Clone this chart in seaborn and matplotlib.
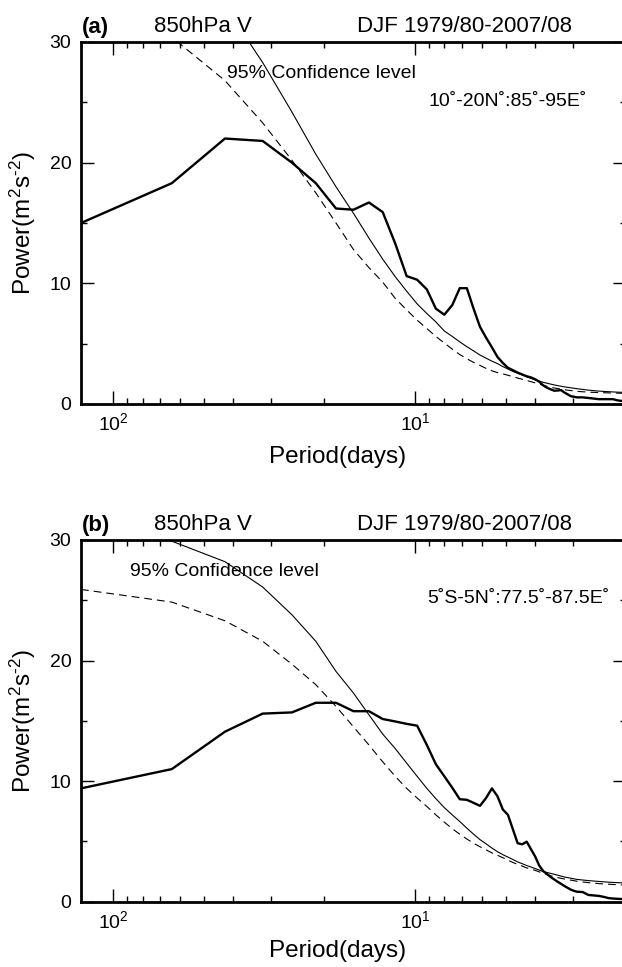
import matplotlib
matplotlib.use("Agg")
import matplotlib.pyplot as plt
import matplotlib.ticker as mticker
import numpy as np
import pandas as pd
import seaborn as sns

# segment length in days, periods are n_days / k
n_days = 128

# harmonics for the observed spectra
k_obs = [1, 2, 3, 4, 5, 6, 7, 8, 9, 10, 11, 12, 13, 14, 15, 16, 17, 18, 19, 20,
         21, 22, 23, 24, 25, 26, 27, 28, 29, 30, 31, 32, 33, 34, 35, 36, 37, 38, 39, 40,
         41, 42, 43, 44, 46, 48, 50, 52, 54, 56, 58, 60, 62, 64]

# (a) 10-20N, 85-95E
power_a = [15.0, 18.3, 22.0, 21.8, 20.0, 18.3, 16.2, 16.1, 16.7, 15.9,
           13.3, 10.6, 10.3, 9.5, 7.9, 7.4, 8.2, 9.6, 9.6, 7.9,
           6.4, 5.5, 4.7, 3.9, 3.4, 3.0, 2.8, 2.6, 2.45, 2.3,
           2.2, 2.05, 1.85, 1.55, 1.35, 1.22, 1.1, 1.12, 1.15, 0.95,
           0.8, 0.65, 0.6, 0.55, 0.55, 0.5, 0.45, 0.4, 0.4, 0.4, 0.4, 0.3, 0.25, 0.2]

# (b) 5S-5N, 77.5-87.5E
power_b = [9.4, 11.0, 14.1, 15.6, 15.7, 16.5, 16.5, 15.8, 15.8, 15.15,
           14.95, 14.75, 14.6, 13.0, 11.4, 10.4, 9.45, 8.5, 8.45, 8.2,
           7.95, 8.6, 9.4, 8.75, 7.65, 7.2, 6.0, 4.85, 4.76, 4.98,
           4.35, 3.75, 3.0, 2.55, 2.3, 2.05, 1.85, 1.65, 1.48, 1.3,
           1.15, 1.0, 0.9, 0.83, 0.8, 0.56, 0.52, 0.48, 0.4, 0.3, 0.26, 0.24, 0.22, 0.2]

# harmonics for the red noise / confidence curves
k_fit = [1, 2, 3, 4, 5, 6, 7, 8, 9, 10, 11, 12, 13, 14, 15, 16, 17, 18, 19, 20,
         21, 22, 23, 24, 25, 26, 27, 28, 29, 30, 32, 34, 36, 38, 40, 44, 48, 52, 56, 60, 64]

conf_a = [48, 40, 33, 28.3, 24.2, 20.7, 18.0, 15.8, 13.75, 12.0,
          10.55, 9.35, 8.3, 7.5, 6.8, 6.05, 5.6, 5.15, 4.75, 4.4,
          4.06, 3.8, 3.55, 3.35, 3.1, 2.9, 2.7, 2.55, 2.4, 2.25,
          2.0, 1.8, 1.65, 1.52, 1.42, 1.27, 1.15, 1.07, 1.02, 0.98, 0.96]
red_a = [33, 30.4, 26.8, 23.3, 20.2, 17.5, 15.0, 12.8, 11.3, 10.1,
         8.75, 7.8, 6.95, 6.25, 5.6, 5.05, 4.55, 4.1, 3.75, 3.45,
         3.2, 2.95, 2.75, 2.6, 2.5, 2.38, 2.27, 2.15, 2.05, 1.95,
         1.75, 1.55, 1.38, 1.28, 1.18, 1.05, 0.98, 0.95, 0.92, 0.9, 0.88]

conf_b = [33, 29.9, 28.2, 26.1, 23.8, 21.6, 19.1, 17.3, 15.5, 13.9,
          12.7, 11.5, 10.4, 9.4, 8.55, 7.8, 7.2, 6.65, 6.1, 5.6,
          5.15, 4.8, 4.45, 4.15, 3.9, 3.7, 3.5, 3.3, 3.15, 3.0,
          2.75, 2.5, 2.35, 2.2, 2.05, 1.85, 1.75, 1.68, 1.62, 1.58, 1.55]
red_b = [25.9, 24.85, 23.3, 21.6, 19.7, 18.0, 16.2, 14.5, 13.0, 11.6,
         10.4, 9.4, 8.6, 7.9, 7.2, 6.6, 6.05, 5.6, 5.2, 4.85,
         4.56, 4.3, 4.05, 3.85, 3.65, 3.45, 3.25, 3.1, 2.95, 2.8,
         2.6, 2.35, 2.15, 2.0, 1.88, 1.7, 1.58, 1.5, 1.45, 1.41, 1.38]

panels = [
    ("(a)", "10˚-20N˚:85˚-95E˚", power_a, conf_a, red_a),
    ("(b)", "5˚S-5N˚:77.5˚-87.5E˚", power_b, conf_b, red_b),
]

sns.set_theme(style="ticks", rc={
    "axes.edgecolor": "black", "text.color": "black", "axes.labelcolor": "black",
    "xtick.color": "black", "ytick.color": "black",
})
plt.rcParams["font.family"] = ["Liberation Sans", "DejaVu Sans"]
plt.rcParams["mathtext.fontset"] = "custom"
plt.rcParams["mathtext.rm"] = "Liberation Sans"
plt.rcParams["mathtext.default"] = "regular"

fig = plt.figure(figsize=(6.22, 9.67), dpi=100)
W, H = 622.0, 967.0
boxes = [(81, 42, 626, 404), (81, 540, 626, 901.7)]

for (tag, region, obs, conf, red), (x0, y0, x1, y1) in zip(panels, boxes):
    ax = fig.add_axes([x0 / W, 1 - y1 / H, (x1 - x0) / W, (y1 - y0) / H])

    df_obs = pd.DataFrame({"period": n_days / np.array(k_obs), "power": obs})
    df_fit = pd.DataFrame({"period": n_days / np.array(k_fit), "conf": conf, "red": red})

    sns.lineplot(data=df_fit, x="period", y="red", ax=ax, color="black", lw=0.8,
                 estimator=None, sort=False)
    ax.lines[-1].set_dashes((7, 4.5))
    sns.lineplot(data=df_fit, x="period", y="conf", ax=ax, color="black", lw=0.8,
                 estimator=None, sort=False)
    sns.lineplot(data=df_obs, x="period", y="power", ax=ax, color="black", lw=1.7,
                 estimator=None, sort=False)

    ax.set_xscale("log")
    ax.set_xlim(128, 2)
    ax.set_ylim(0, 30)
    ax.set_xticks([100, 10])
    ax.set_xticklabels([r"$10^{2}$", r"$10^{1}$"])
    ax.xaxis.set_minor_locator(mticker.LogLocator(base=10, subs=np.arange(2, 10), numticks=20))
    ax.xaxis.set_minor_formatter(mticker.NullFormatter())
    ax.set_yticks([0, 10, 20, 30])
    ax.yaxis.set_minor_locator(mticker.MultipleLocator(5))

    ax.tick_params(which="both", direction="in", top=True, right=True, width=1, labelsize=14)
    ax.tick_params(which="major", length=9.4)
    ax.tick_params(which="minor", length=4.3)
    ax.tick_params(axis="x", pad=6)
    ax.tick_params(axis="y", pad=7)
    for sp in ax.spines.values():
        sp.set_linewidth(2)

    h = y1 - y0
    ax.set_xlabel("Period(days)", fontsize=17.5)
    ax.set_ylabel(r"Power(m$^{2}$s$^{\text{-}2}$)", fontsize=17.5)
    ax.xaxis.set_label_coords(0.4706, -(42 if tag == "(a)" else 38.5) / h)
    ax.yaxis.set_label_coords(-0.079, 0.5)

    top = 1 + 9.5 / h
    ax.text(0.002, top, tag, transform=ax.transAxes, fontsize=16, fontweight="bold")
    ax.text(0.134, top, "850hPa V", transform=ax.transAxes, fontsize=16)
    ax.text(0.5064, top, "DJF 1979/80-2007/08", transform=ax.transAxes, fontsize=16)
    if tag == "(a)":
        ax.text(0.2673, 0.8997, "95% Confidence level", transform=ax.transAxes, fontsize=14)
        ax.text(0.6367, 0.823, region, transform=ax.transAxes, fontsize=14)
    else:
        ax.text(0.0899, 0.9005, "95% Confidence level", transform=ax.transAxes, fontsize=14)
        ax.text(0.6349, 0.8267, region, transform=ax.transAxes, fontsize=14)

fig.savefig("out.png", dpi=100)
